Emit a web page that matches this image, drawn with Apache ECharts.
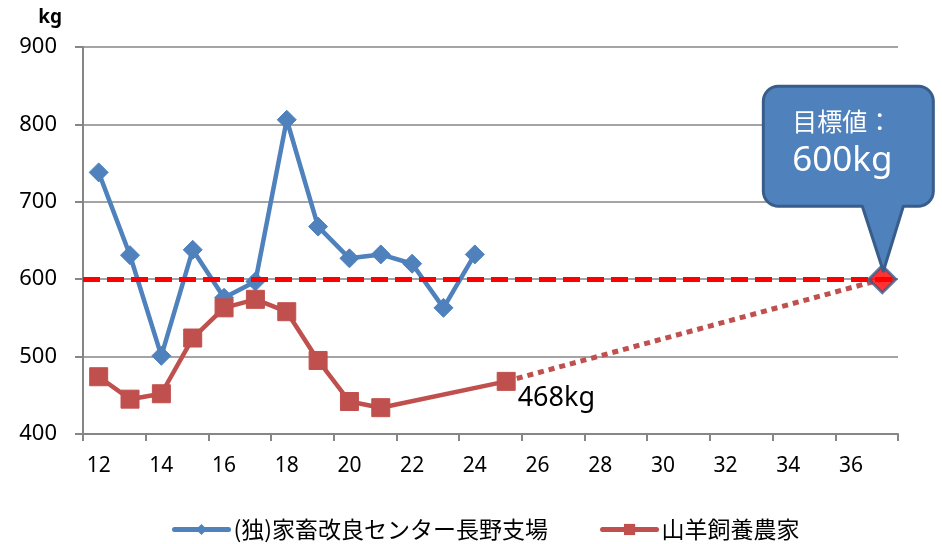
<!DOCTYPE html>
<html>
<head>
<meta charset="utf-8">
<script src="https://cdn.jsdelivr.net/npm/echarts@6/dist/echarts.min.js"></script>
<style>
  html, body { margin: 0; padding: 0; background: #ffffff; }
  #chart { width: 942px; height: 544px; }
</style>
</head>
<body>
<div id="chart"></div>
<script>
// Age in weeks along the bottom axis (labels shown every other week)
const weeks = ['12','13','14','15','16','17','18','19','20','21','22','23','24',
               '25','26','27','28','29','30','31','32','33','34','35','36','37'];

// Weight scale (kg)
const weightMin = 400;
const weightMax = 900;
const weightStep = 100;

// Breeding station records
const stationName = '(独)家畜改良センター長野支場';
const stationWeeks = ['12','13','14','15','16','17','18','19','20','21','22','23','24'];
const stationWeights = [738, 631, 501, 638, 576, 597, 806, 668, 627, 632, 620, 563, 632];

// Goat farm records
const farmName = '山羊飼養農家';
const farmWeeks = ['12','13','14','15','16','17','18','19','20','21','25'];
const farmWeights = [474, 445, 452, 524, 563, 574, 558, 495, 442, 434, 468];

// Target weight
const targetWeek = '37';
const targetWeight = 600;

const blue = '#4F81BD';
const red = '#C0504D';
const axisGray = '#868686';
const numFont = "'Noto Sans', 'Noto Sans CJK JP', sans-serif";
const cjkFont = "'Noto Sans CJK JP', 'Noto Sans', sans-serif";

const pairs = (xs, ys) => xs.map((x, i) => [x, ys[i]]);
const lastFarmWeek = farmWeeks[farmWeeks.length - 1];
const lastFarmWeight = farmWeights[farmWeights.length - 1];

const chart = echarts.init(document.getElementById('chart'), null, { renderer: 'canvas' });

chart.setOption({
  animation: false,
  backgroundColor: '#ffffff',
  grid: { left: 83, right: 44, top: 47, bottom: 110, containLabel: false },
  legend: {
    data: [stationName, farmName],
    left: 167,
    top: 513,
    itemWidth: 54,
    itemHeight: 14,
    itemGap: 52,
    lineStyle: { width: 5, cap: 'round' },
    textStyle: { fontFamily: cjkFont, fontSize: 23, color: '#000000' }
  },
  xAxis: {
    type: 'category',
    data: weeks,
    boundaryGap: true,
    axisLine: { lineStyle: { color: axisGray, width: 2 } },
    axisTick: { show: true, interval: 1, length: 7, lineStyle: { color: axisGray, width: 2 } },
    axisLabel: { interval: 1, margin: 22, fontFamily: numFont, fontSize: 21, color: '#000000' },
    splitLine: { show: false }
  },
  yAxis: {
    type: 'value',
    min: weightMin,
    max: weightMax,
    interval: weightStep,
    name: 'kg',
    nameLocation: 'end',
    nameGap: 20,
    nameTextStyle: { fontFamily: numFont, fontSize: 19, fontWeight: 'bold', color: '#000000', align: 'right', padding: [0, 21, 0, 0] },
    axisLine: { show: true, lineStyle: { color: axisGray, width: 2 } },
    axisTick: { show: true, length: 8, lineStyle: { color: axisGray, width: 2 } },
    axisLabel: { margin: 26, fontFamily: numFont, fontSize: 22, color: '#000000' },
    splitLine: { show: true, lineStyle: { color: axisGray, width: 1.5 } }
  },
  series: [
    {
      name: stationName,
      type: 'line',
      data: pairs(stationWeeks, stationWeights),
      symbol: 'diamond',
      symbolSize: 19,
      lineStyle: { color: blue, width: 4.5 },
      itemStyle: { color: blue, borderColor: blue },
      z: 3
    },
    {
      name: farmName,
      type: 'line',
      data: pairs(farmWeeks, farmWeights),
      symbol: 'rect',
      symbolSize: 18,
      lineStyle: { color: red, width: 4.5 },
      itemStyle: { color: red, borderColor: red },
      label: {
        show: true,
        position: 'right',
        distance: 2,
        offset: [0, 17],
        fontFamily: numFont,
        fontSize: 27,
        color: '#000000',
        formatter: (p) => (p.dataIndex === farmWeeks.length - 1 ? p.value[1] + 'kg' : '')
      },
      z: 4
    },
    {
      name: 'projection',
      type: 'line',
      data: [[lastFarmWeek, lastFarmWeight], [targetWeek, targetWeight]],
      symbol: 'none',
      lineStyle: { color: red, width: 5, type: [6, 5], cap: 'butt' },
      z: 2
    },
    {
      name: 'target',
      type: 'scatter',
      data: [[targetWeek, targetWeight]],
      symbol: 'diamond',
      symbolSize: 27,
      itemStyle: { color: '#FF0000', borderColor: '#385D8A', borderWidth: 3 },
      markLine: {
        silent: true,
        symbol: 'none',
        label: { show: false },
        lineStyle: { color: '#FF0000', width: 5, type: [17, 7], cap: 'butt' },
        data: [{ yAxis: targetWeight }]
      },
      z: 6
    }
  ]
});

// Speech-bubble callout pointing at the target marker
const [px, py] = chart.convertToPixel({ seriesIndex: 3 }, [targetWeek, targetWeight]);
const L = px - 119, R = px + 51, T = py - 193, B = py - 73, r = 15;
const tipX = px + 1, tipY = py - 8;
const baseL = px - 20, baseR = px + 21;

// Rounded corner as a short run of points (quarter circle)
function corner(cx, cy, a0) {
  const pts = [];
  for (let k = 0; k <= 8; k++) {
    const a = a0 + (Math.PI / 2) * (k / 8);
    pts.push([cx + r * Math.cos(a), cy + r * Math.sin(a)]);
  }
  return pts;
}
const bubblePoints = [].concat(
  corner(L + r, T + r, Math.PI),            // top-left
  corner(R - r, T + r, -Math.PI / 2),       // top-right
  corner(R - r, B - r, 0),                  // bottom-right
  [[baseR, B], [tipX, tipY], [baseL, B]],   // pointer
  corner(L + r, B - r, Math.PI / 2)         // bottom-left
);

chart.setOption({
  graphic: [
    {
      type: 'polygon',
      z: 10,
      shape: { points: bubblePoints },
      style: { fill: blue, stroke: '#385D8A', lineWidth: 3, lineJoin: 'round' }
    },
    {
      type: 'text',
      z: 11,
      style: {
        text: '目標値：',
        x: px - 40, y: py - 158,
        fill: '#ffffff',
        font: '25px ' + cjkFont,
        textAlign: 'center', textVerticalAlign: 'middle'
      }
    },
    {
      type: 'text',
      z: 11,
      style: {
        text: targetWeight + 'kg',
        x: px - 40, y: py - 118,
        fill: '#ffffff',
        font: '35px ' + numFont,
        textAlign: 'center', textVerticalAlign: 'middle'
      }
    }
  ]
});
</script>
</body>
</html>
